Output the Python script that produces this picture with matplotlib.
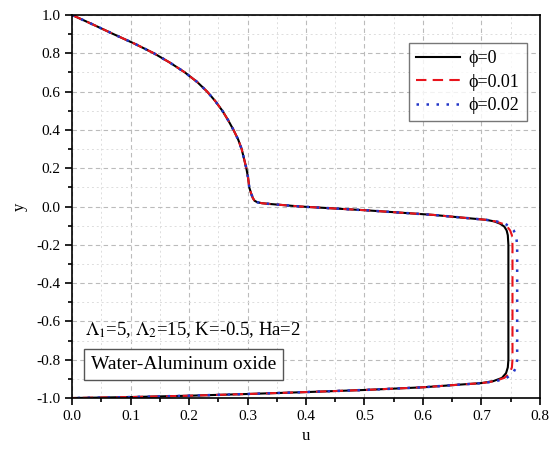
import matplotlib
matplotlib.use("Agg")
import matplotlib.pyplot as plt
from matplotlib.ticker import MultipleLocator, FormatStrFormatter

plt.rcParams['font.family'] = ['Liberation Serif', 'DejaVu Serif']
plt.rcParams['mathtext.fontset'] = 'stix'

# common upper branch (u, y), same for all three curves
u_top = [0.0, 0.036, 0.071, 0.107, 0.140, 0.168, 0.193, 0.214, 0.231, 0.245,
         0.257, 0.267, 0.276, 0.284, 0.290, 0.294, 0.298, 0.301, 0.303, 0.306,
         0.309, 0.312, 0.317, 0.325, 0.339, 0.390, 0.504, 0.618, 0.709]
y_top = [1.0, 0.95, 0.9, 0.85, 0.8, 0.75, 0.7, 0.65, 0.6, 0.55,
         0.5, 0.45, 0.4, 0.35, 0.3, 0.25, 0.2, 0.15, 0.1, 0.07,
         0.045, 0.030, 0.022, 0.017, 0.013, 0.0, -0.020, -0.044, -0.070]

# right (vertical) branch for each phi
u_side_0 = [0.722, 0.732, 0.739, 0.743, 0.745, 0.746, 0.746, 0.745, 0.742, 0.735, 0.720, 0.700]
u_side_1 = [0.724, 0.736, 0.744, 0.749, 0.752, 0.753, 0.753, 0.752, 0.748, 0.739, 0.722, 0.701]
u_side_2 = [0.726, 0.740, 0.749, 0.755, 0.759, 0.761, 0.761, 0.759, 0.754, 0.743, 0.725, 0.702]
y_side = [-0.078, -0.090, -0.105, -0.125, -0.150, -0.20, -0.80, -0.84, -0.87, -0.895, -0.912, -0.922]

# common lower branch
u_bot = [0.663, 0.60, 0.50, 0.40, 0.30, 0.20, 0.10, 0.0]
y_bot = [-0.930, -0.944, -0.958, -0.969, -0.979, -0.988, -0.995, -1.0]

labels = ['ϕ=0', 'ϕ=0.01', 'ϕ=0.02']
colors = ['black', '#e8141c', '#2436c8']
styles = ['-', (0, (5, 3)), (0, (1, 3))]
widths = [1.5, 1.5, 1.8]

fig = plt.figure(figsize=(5.51, 4.54), dpi=100)
ax = fig.add_axes([0.1307, 0.1233, 0.8493, 0.8437])

for side, lab, c, ls, lw in zip([u_side_0, u_side_1, u_side_2], labels, colors, styles, widths):
    u = u_top + side + u_bot
    y = y_top + y_side + y_bot
    ax.plot(u, y, color=c, linestyle=ls, linewidth=lw, label=lab)

ax.set_xlim(0, 0.8)
ax.set_ylim(-1.0, 1.0)
ax.xaxis.set_major_locator(MultipleLocator(0.1))
ax.xaxis.set_minor_locator(MultipleLocator(0.05))
ax.yaxis.set_major_locator(MultipleLocator(0.2))
ax.yaxis.set_minor_locator(MultipleLocator(0.1))
ax.xaxis.set_major_formatter(FormatStrFormatter('%.1f'))
ax.yaxis.set_major_formatter(FormatStrFormatter('%.1f'))

ax.grid(which='major', color='#bbbbbb', linestyle=(0, (4, 3)), linewidth=0.8)
ax.grid(which='minor', color='#dddddd', linestyle=(0, (2, 3)), linewidth=0.7)
ax.tick_params(which='both', direction='out', top=False, right=False,
               labelsize=11, width=1.2)
ax.tick_params(which='major', length=5)
ax.tick_params(which='minor', length=3)
for s in ax.spines.values():
    s.set_linewidth(1.2)

ax.set_xlabel('u', fontsize=12, labelpad=4)
ax.set_ylabel('y', fontsize=12, labelpad=6)

leg = ax.legend(loc='upper right', bbox_to_anchor=(0.991, 0.950), fontsize=13,
                frameon=True, fancybox=False, edgecolor='#555555',
                handlelength=2.4, borderpad=0.4, labelspacing=0.35, handletextpad=0.5)
leg.get_frame().set_linewidth(1.0)

ax.text(0.028, 0.165, r'$\Lambda_1$=5, $\Lambda_2$=15, K=-0.5, Ha=2',
        transform=ax.transAxes, fontsize=13.5)
ax.text(0.04, 0.076, 'Water-Aluminum oxide', transform=ax.transAxes, fontsize=14,
        bbox=dict(boxstyle='square,pad=0.35', facecolor='white', edgecolor='#555555'))

fig.savefig('out.png', dpi=100)
